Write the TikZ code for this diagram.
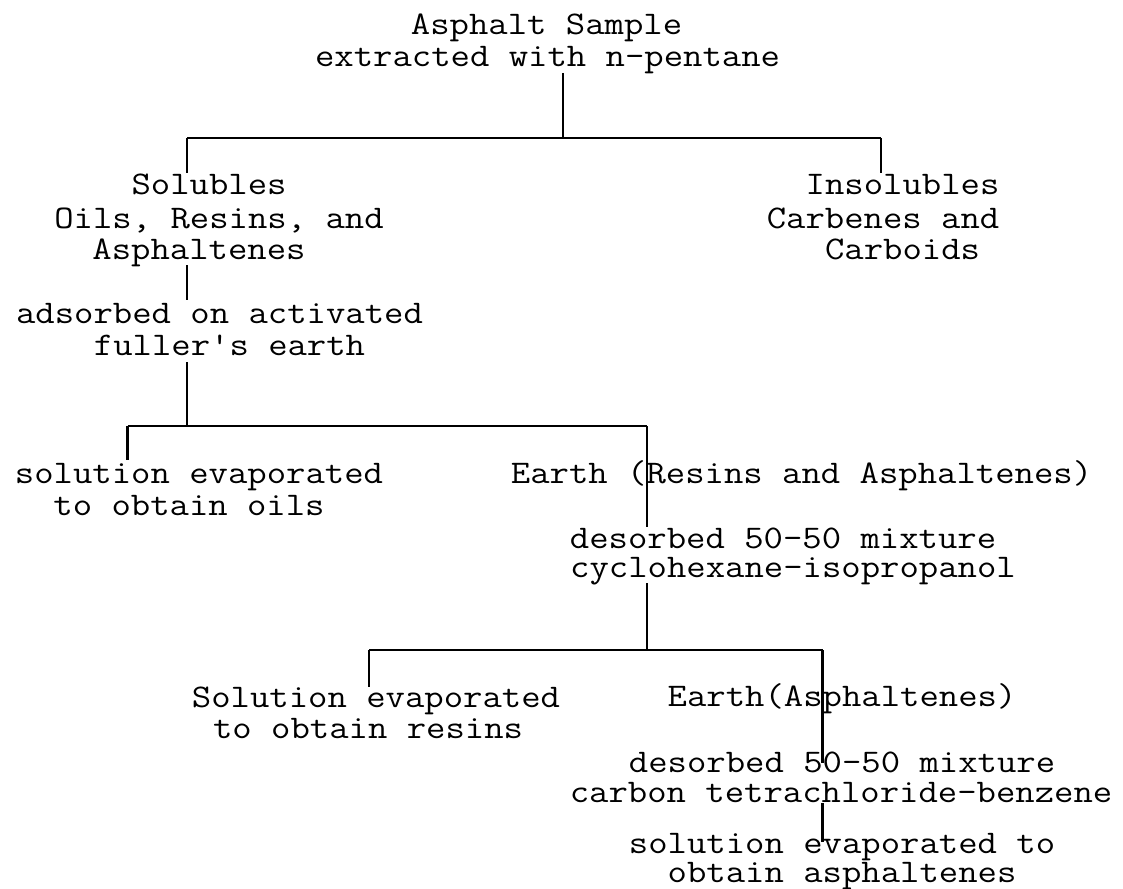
\documentclass[tikz,border=0pt]{standalone}
\usepackage{fontspec}
\usetikzlibrary{calc}
\newcommand{\tw}[1]{\scalebox{1.14}[1]{#1}}
\begin{document}
\begin{tikzpicture}[x=1pt,y=-1pt,
  txt/.style={anchor=base,inner sep=0pt,font=\ttfamily\fontsize{33}{34}\selectfont},
  conn/.style={line width=2.2pt},
  hconn/.style={line width=1.6pt}]
\fill[white] (0,0) rectangle (1123,888);
\useasboundingbox (0,0) rectangle (1123,888);
% texts
\node[txt] (a1) at (546.5,35) {\tw{Asphalt Sample}};
\node[txt] (a2) at (547.5,67) {\tw{extracted with n-pentane}};
\node[txt] (s1) at (209,194) {\tw{Solubles}};
\node[txt] (s2) at (219,228) {\tw{Oils, Resins, and}};
\node[txt] (s3) at (199,259) {\tw{Asphaltenes}};
\node[txt] (i1) at (902.5,194) {\tw{Insolubles}};
\node[txt] (i2) at (883,228) {\tw{Carbenes and}};
\node[txt] (i3) at (902.5,259) {\tw{Carboids}};
\node[txt] (d1) at (219.5,323) {\tw{adsorbed on activated}};
\node[txt] (d2) at (229.5,355) {\tw{fuller's earth}};
\node[txt] (o1) at (199,483) {\tw{solution evaporated}};
\node[txt] (o2) at (189,515) {\tw{to obtain oils}};
\node[txt] (e1) at (801.5,483) {\tw{Earth (Resins and Asphaltenes)}};
\node[txt] (c1) at (783,548) {\tw{desorbed 50-50 mixture}};
\node[txt] (c2) at (793,577) {\tw{cyclohexane-isopropanol}};
\node[txt] (r1) at (376,707) {\tw{Solution evaporated}};
\node[txt] (r2) at (368,738) {\tw{to obtain resins}};
\node[txt] (ea) at (842,706) {\tw{Earth(Asphaltenes)}};
\node[txt] (b1) at (842,772) {\tw{desorbed 50-50 mixture}};
\node[txt] (b2) at (841,802) {\tw{carbon tetrachloride-benzene}};
\node[txt] (b3) at (842,853) {\tw{solution evaporated to}};
\node[txt] (b4) at (842,882) {\tw{obtain asphaltenes}};
% junctions
\coordinate (j1) at (563,138);
\coordinate (j1l) at (187,138);
\coordinate (j1r) at (881,138);
\coordinate (j2) at (187,426);
\coordinate (j2l) at (127.5,426);
\coordinate (j2r) at (647,426);
\coordinate (j3) at (647,650);
\coordinate (j3l) at (369,650);
\coordinate (j3r) at (822.5,650);
% connectors
\draw[conn] ($(a2.base -| j1)+(0,6)$) -- (j1);
\draw[hconn] (j1l) -- (j1r);
\draw[conn] (j1l) -- ($(s1.base -| j1l)+(0,-21)$);
\draw[conn] (j1r) -- ($(i1.base -| j1r)+(0,-21)$);
\draw[conn] ($(s3.base -| j1l)+(0,6)$) -- ($(d1.base -| j1l)+(0,-23)$);
\draw[conn] ($(d2.base -| j2)+(0,7)$) -- (j2);
\draw[hconn] (j2l) -- (j2r);
\draw[conn] (j2l) -- ($(o1.base -| j2l)+(0,-23)$);
\draw[conn] (j2r) -- ($(c1.base -| j2r)+(0,-21)$);
\draw[conn] ($(c2.base -| j3)+(0,6)$) -- (j3);
\draw[hconn] (j3l) -- (j3r);
\draw[conn] (j3l) -- ($(r1.base -| j3l)+(0,-20)$);
\draw[conn] (j3r) -- ($(b1.base -| j3r)+(0,-9)$);
\draw[conn] ($(b2.base -| j3r)+(0,1)$) -- ($(b3.base -| j3r)+(0,-11)$);
\end{tikzpicture}
\end{document}
